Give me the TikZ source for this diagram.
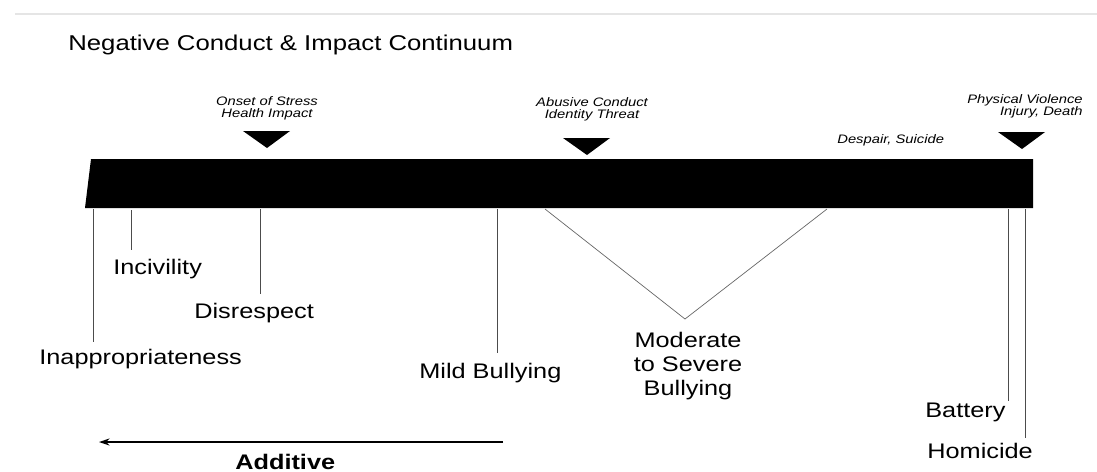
\documentclass[tikz,border=0pt]{standalone}
\usepackage{fontspec}
\setmainfont{Liberation Sans}[FakeStretch=1.2]
\usetikzlibrary{arrows.meta}

\begin{document}
\begin{tikzpicture}[x=0.02cm,y=-0.02cm,
	lbl/.style={font=\fontsize{12}{13.6}\selectfont,inner sep=0pt},
	note/.style={font=\fontsize{7}{7.1}\selectfont\itshape,inner sep=0pt,align=center},
	tick/.style={draw=black!70,line width=0.5pt},
	vee/.style={draw=black!60,line width=0.4pt}]
		\useasboundingbox (0,0) rectangle (1097,471);
		\draw[black!10,line width=0.6pt] (15,14) -- (1097,14);
		%
		\node[lbl,font=\fontsize{12.2}{13.6}\selectfont,anchor=base west] (title) at (68,50) {Negative Conduct \& Impact Continuum};
		%
		% the continuum bar
		\fill (91,159) -- (1033,159) -- (1033,208) -- (85,208) -- cycle;
		%
		% pointers above the bar
		\fill (243,131) -- (290,131) -- (267,148) -- cycle;
		\fill (563,138) -- (610,138) -- (587,155) -- cycle;
		\fill (998,132) -- (1045,132) -- (1022,149) -- cycle;
		\node[note,anchor=north] (stress) at (267,96) {Onset of Stress\\Health Impact};
		\node[note,anchor=north] (abuse) at (592,97) {Abusive Conduct\\Identity Threat};
		\node[note,anchor=north east,align=right] (phys) at (1083,94) {Physical Violence\\Injury, Death};
		\node[note,anchor=base west] (despair) at (837,143) {Despair, Suicide};
		%
		% labels below the bar
		\node[lbl,anchor=base west] (inap) at (39,364) {Inappropriateness};
		\node[lbl,anchor=base west] (inciv) at (113,274) {Incivility};
		\node[lbl,anchor=base west] (disr) at (194,318) {Disrespect};
		\node[lbl,anchor=base west] (mild) at (419,378) {Mild Bullying};
		\node[lbl,anchor=north,align=center] (mod) at (688,332) {Moderate\\to Severe\\Bullying};
		\node[lbl,anchor=base west] (batt) at (925,417) {Battery};
		\node[lbl,anchor=base west] (homi) at (927,458) {Homicide};
		\node[lbl,font=\fontsize{12}{13.6}\selectfont\bfseries,anchor=base west] (add) at (235,469) {Additive};
		%
		\coordinate (inap-a) at (93,209);   \coordinate (inap-b) at (93,342);
		\coordinate (inciv-a) at (131,210); \coordinate (inciv-b) at (131,250);
		\coordinate (disr-a) at (260,209);  \coordinate (disr-b) at (260,294);
		\coordinate (mild-a) at (497,209);  \coordinate (mild-b) at (497,353);
		\coordinate (mod-l) at (545,209);   \coordinate (mod-r) at (827,209);
		\coordinate (mod-v) at (685,319);
		\coordinate (batt-a) at (1008,209); \coordinate (batt-b) at (1008,401);
		\coordinate (homi-a) at (1025,209); \coordinate (homi-b) at (1025,438);
		\coordinate (add-r) at (503,442);   \coordinate (add-l) at (99,442);
		%
		% tick lines
		\path[tick]
		(inap-a) edge (inap-b)
		(inciv-a) edge (inciv-b)
		(disr-a) edge (disr-b)
		(mild-a) edge (mild-b)
		(batt-a) edge (batt-b)
		(homi-a) edge (homi-b);
		\draw[vee] (mod-l) -- (mod-v) -- (mod-r);
		%
		% additive arrow
		\draw[line width=0.9pt,-{Stealth[length=6pt,width=4pt]}] (add-r) -- (add-l);
	\end{tikzpicture}
\end{document}
